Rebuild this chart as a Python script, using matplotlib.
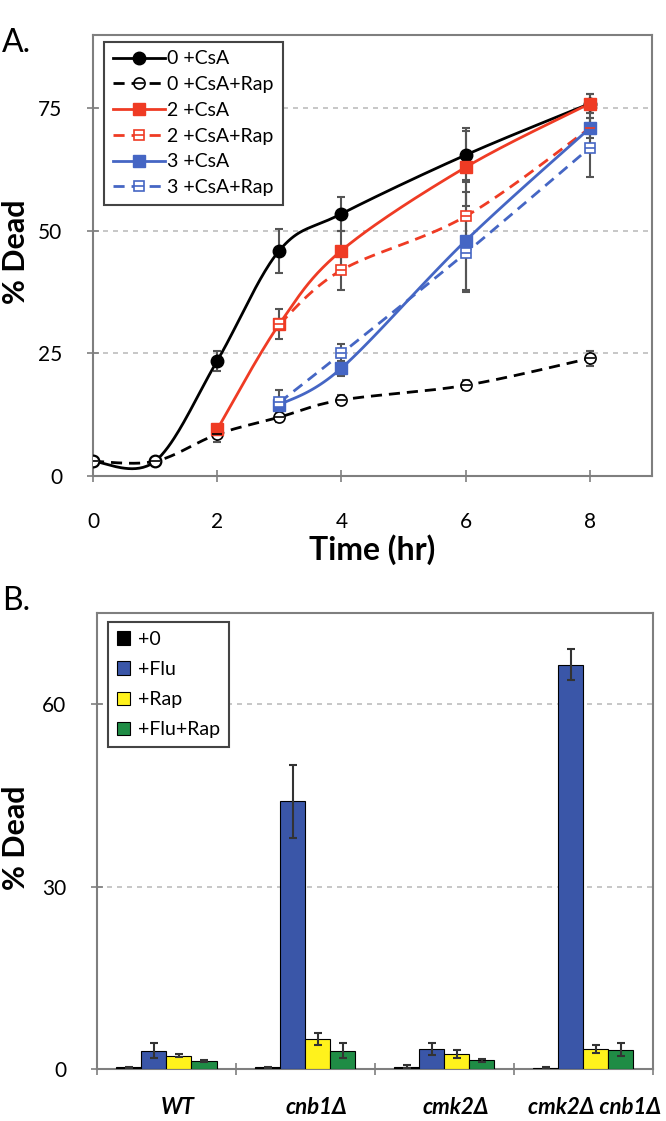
import numpy as np
import matplotlib
matplotlib.use("Agg")
import matplotlib.pyplot as plt
from matplotlib.lines import Line2D

plt.rcParams['font.family'] = ['Lato', 'DejaVu Sans']

# ---- panel A data ----
t_0csa = [0, 1, 2, 3, 4, 6, 8]
d_0csa = [3, 3, 23.5, 46, 53.5, 65.5, 76]
e_0csa = [0.5, 0.5, 2, 4.5, 3.5, 5, 2]

t_0rap = [0, 1, 2, 3, 4, 6, 8]
d_0rap = [3, 3, 8.5, 12, 15.5, 18.5, 24]
e_0rap = [0.5, 0.5, 1.5, 1, 1, 1, 1.5]

t_2csa = [2, 3, 4, 6, 8]
d_2csa = [9.5, 31, 46, 63, 76]
e_2csa = [1, 3, 4, 8, 2]

t_2rap = [3, 4, 6, 8]
d_2rap = [31, 42, 53, 71]
e_2rap = [1, 4, 7, 4]

t_3csa = [3, 4, 6, 8]
d_3csa = [14.5, 22, 48, 71]
e_3csa = [3, 1.5, 10, 2]

t_3rap = [3, 4, 6, 8]
d_3rap = [15, 25, 45.5, 67]
e_3rap = [1, 2, 8, 6]

# ---- panel B data ----
strains = ["WT", "cnb1\u0394", "cmk2\u0394", "cmk2\u0394 cnb1\u0394"]
b_none = [0.3, 0.3, 0.4, 0.2]
b_flu = [3, 44, 3.3, 66.5]
b_rap = [2.2, 5, 2.5, 3.3]
b_flurap = [1.3, 3, 1.4, 3.2]
err_none = [0.1, 0.1, 0.2, 0.1]
err_flu = [1.2, 6, 1, 2.5]
err_rap = [0.2, 1, 0.7, 0.7]
err_flurap = [0.2, 1.2, 0.2, 1]

RED = "#ef3b24"
BLUE = "#4566c4"
GRID = "#bdbdbd"
FRAME = "#7f7f7f"
ERR = "#555555"


def smooth(x, y, n=40):
    # excel-like smoothed line (catmull-rom as bezier)
    x = np.asarray(x, float)
    y = np.asarray(y, float)
    P = np.column_stack([x, y])
    P = np.vstack([P[0], P, P[-1]])
    out = []
    t = np.linspace(0, 1, n)[:, None]
    for i in range(len(x) - 1):
        p0, p1, p2, p3 = P[i], P[i + 1], P[i + 2], P[i + 3]
        c1 = p1 + (p2 - p0) / 6
        c2 = p2 - (p3 - p1) / 6
        seg = (1 - t) ** 3 * p1 + 3 * (1 - t) ** 2 * t * c1 + 3 * (1 - t) * t ** 2 * c2 + t ** 3 * p2
        out.append(seg)
    out = np.vstack(out)
    return out[:, 0], out[:, 1]


fig = plt.figure(figsize=(6.66, 11.21), dpi=100)
axA = fig.add_axes([0.1396, 0.5754, 0.8393, 0.3934])
axB = fig.add_axes([0.1456, 0.0464, 0.8348, 0.4068])

series = [
    (t_0csa, d_0csa, e_0csa, "black", "-", "o", True, "0 +CsA"),
    (t_0rap, d_0rap, e_0rap, "black", (0, (4, 2.5)), "o", False, "0 +CsA+Rap"),
    (t_2csa, d_2csa, e_2csa, RED, "-", "s", True, "2 +CsA"),
    (t_2rap, d_2rap, e_2rap, RED, (0, (4, 2.5)), "s", False, "2 +CsA+Rap"),
    (t_3csa, d_3csa, e_3csa, BLUE, "-", "s", True, "3 +CsA"),
    (t_3rap, d_3rap, e_3rap, BLUE, (0, (4, 2.5)), "s", False, "3 +CsA+Rap"),
]

handles = []
for t, d, e, c, ls, m, filled, lab in series:
    axA.errorbar(t, d, yerr=e, fmt="none", ecolor=ERR, elinewidth=1.5,
                 capsize=3, capthick=1.5, zorder=2)
for t, d, e, c, ls, m, filled, lab in series:
    sx, sy = smooth(t, d)
    axA.plot(sx, sy, color=c, ls=ls, lw=2, zorder=3)
    ms = 9 if m == "o" else 8.5
    if filled:
        axA.plot(t, d, ls="none", marker=m, ms=ms, color=c, mec=c, zorder=4)
        h = Line2D([], [], color=c, ls=ls, lw=2, marker=m, ms=ms, mec=c)
    else:
        axA.plot(t, d, ls="none", marker=m, ms=ms - 1, mfc="white", mec=c,
                 mew=1.2, zorder=4)
        axA.plot(t, d, ls="none", marker="_", ms=ms - 2, mec=c, mew=1.2, zorder=5)
        h = (Line2D([], [], color=c, ls=ls, lw=2, marker=m, ms=ms - 1,
                    mfc="white", mec=c, mew=1.2),
             Line2D([], [], ls="none", marker="_", ms=ms - 2, mec=c, mew=1.2))
    handles.append((h, lab))

axA.set_xlim(0, 9)
axA.set_ylim(0, 90)
axA.set_xticks([0, 2, 4, 6, 8])
axA.set_yticks([0, 25, 50, 75])
for y in [25, 50, 75]:
    axA.axhline(y, color=GRID, lw=1.2, ls=(0, (3, 3)), zorder=0)
axA.set_xlabel("Time (hr)", fontsize=23, fontweight="bold")
axA.xaxis.set_label_coords(0.5, -0.133)
axA.set_ylabel("% Dead", fontsize=22, fontweight="bold")
axA.yaxis.set_label_coords(-0.112, 0.509)

leg = axA.legend([h for h, l in handles], [l for h, l in handles],
                 loc="upper left", bbox_to_anchor=(0.02, 0.985), fontsize=14,
                 numpoints=1, handlelength=2.7, labelspacing=0.45,
                 handletextpad=0.1, borderpad=0.45, fancybox=False,
                 framealpha=1, edgecolor="#444444", borderaxespad=0)
leg.get_frame().set_linewidth(1.5)

# ---- panel B ----
xc = np.arange(len(strains))
w = 0.18
groups = [
    (b_none, err_none, "black", "+0"),
    (b_flu, err_flu, "#3a56a8", "+Flu"),
    (b_rap, err_rap, "#fff21c", "+Rap"),
    (b_flurap, err_flurap, "#1f8c45", "+Flu+Rap"),
]
for k, (vals, errs, col, lab) in enumerate(groups):
    pos = xc + (k - 1.5) * w
    axB.bar(pos, vals, width=w, color=col, edgecolor="black", lw=0.8,
            label=lab, zorder=3)
    axB.errorbar(pos, vals, yerr=errs, fmt="none", ecolor="#333333",
                 elinewidth=1.5, capsize=3, capthick=1.5, zorder=4)

axB.set_xlim(-0.5, len(strains) - 0.5)
axB.set_ylim(0, 75)
axB.set_yticks([0, 30, 60])
for y in [30, 60]:
    axB.axhline(y, color=GRID, lw=1.2, ls=(0, (3, 3)), zorder=0)
axB.set_xticks(np.arange(len(strains) + 1) - 0.5)
axB.set_xticklabels([])
axB.set_xticks(xc + 0.08, minor=True)
axB.set_xticklabels(strains, minor=True, fontsize=16, fontweight="bold",
                    fontstyle="italic")
axB.tick_params(axis="x", which="minor", length=0, pad=20)
axB.set_ylabel("% Dead", fontsize=22, fontweight="bold")
axB.yaxis.set_label_coords(-0.12, 0.507)

legB = axB.legend(loc="upper left", bbox_to_anchor=(0.02, 0.98), fontsize=14,
                  handlelength=0.7, handleheight=0.7, labelspacing=0.68,
                  handletextpad=0.4, borderpad=0.45, fancybox=False,
                  framealpha=1, edgecolor="#444444", borderaxespad=0)
legB.get_frame().set_linewidth(1.5)

for ax in (axA, axB):
    for s in ax.spines.values():
        s.set_color(FRAME)
        s.set_linewidth(1.5)
    ax.tick_params(axis="both", which="major", direction="inout", length=8,
                   width=1.2, color=FRAME, labelsize=15)
    ax.tick_params(axis="y", pad=18)
axA.tick_params(axis="x", pad=22)

fig.text(0.003, 0.962, "A.", fontsize=23, va="center", ha="left")
fig.text(0.003, 0.464, "B.", fontsize=23, va="center", ha="left")

fig.savefig("out.png", dpi=100)
